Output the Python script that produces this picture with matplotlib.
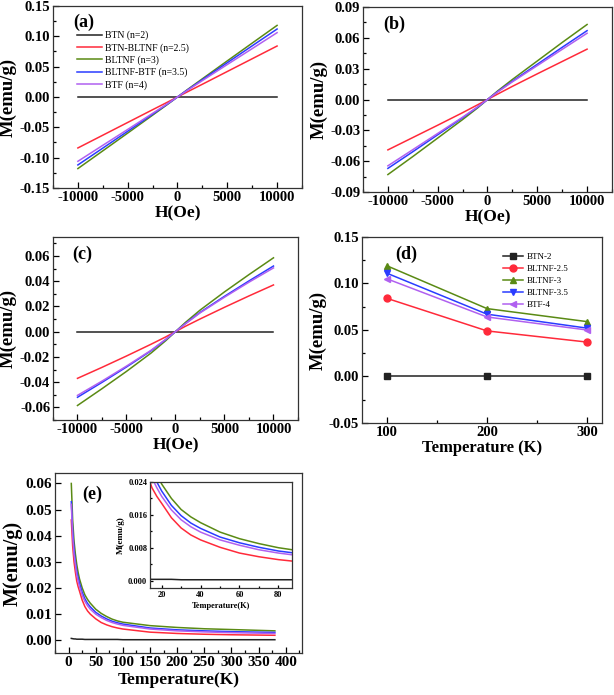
import matplotlib
matplotlib.use("Agg")
import matplotlib.pyplot as plt
from matplotlib.ticker import MultipleLocator, AutoMinorLocator

plt.rcParams["font.family"] = ["Liberation Serif", "DejaVu Serif"]
plt.rcParams["font.weight"] = "bold"
plt.rcParams["axes.unicode_minus"] = False

# -----------------------
# data
# -----------------------
names_mh = ["BTN (n=2)", "BTN-BLTNF (n=2.5)", "BLTNF (n=3)",
            "BLTNF-BTF (n=3.5)", "BTF (n=4)"]
names_mt = ["BTN-2", "BLTNF-2.5", "BLTNF-3", "BLTNF-3.5", "BTF-4"]
colors = ["#222222", "#ff2a3a", "#5a8a14", "#2a3cff", "#b060f0"]
markers = ["s", "o", "^", "v", "<"]

field = [-10000, -7500, -5000, -2500, -1000, 0, 1000, 2500, 5000, 7500, 10000]

# M(H) at 100 K
m_100 = [
    [0, 0, 0, 0, 0, 0, 0, 0, 0, 0, 0],
    [-0.084, -0.063, -0.042, -0.021, -0.0085, 0,
     0.0085, 0.021, 0.042, 0.063, 0.084],
    [-0.118, -0.0888, -0.0595, -0.0300, -0.0122, 0,
     0.0122, 0.0300, 0.0595, 0.0888, 0.118],
    [-0.112, -0.0843, -0.0565, -0.0285, -0.0116, 0,
     0.0116, 0.0285, 0.0565, 0.0843, 0.112],
    [-0.106, -0.0797, -0.0535, -0.0270, -0.0110, 0,
     0.0110, 0.0270, 0.0535, 0.0797, 0.106],
]
# M(H) at 200 K
m_200 = [
    [0, 0, 0, 0, 0, 0, 0, 0, 0, 0, 0],
    [-0.049, -0.0370, -0.0250, -0.0128, -0.0052, 0,
     0.0052, 0.0128, 0.0250, 0.0370, 0.049],
    [-0.073, -0.0555, -0.0375, -0.0195, -0.0082, 0,
     0.0082, 0.0195, 0.0375, 0.0555, 0.073],
    [-0.067, -0.0508, -0.0343, -0.0178, -0.0075, 0,
     0.0075, 0.0178, 0.0343, 0.0508, 0.067],
    [-0.0645, -0.0488, -0.0330, -0.0172, -0.0072, 0,
     0.0072, 0.0172, 0.0330, 0.0488, 0.0645],
]
# M(H) at 300 K
m_300 = [
    [0, 0, 0, 0, 0, 0, 0, 0, 0, 0, 0],
    [-0.037, -0.0283, -0.0193, -0.0100, -0.0042, 0,
     0.0042, 0.0100, 0.0193, 0.0283, 0.037],
    [-0.0585, -0.0452, -0.0315, -0.0170, -0.0072, 0,
     0.0072, 0.0170, 0.0315, 0.0452, 0.0585],
    [-0.052, -0.0402, -0.0280, -0.0152, -0.0063, 0,
     0.0063, 0.0152, 0.0280, 0.0402, 0.052],
    [-0.0505, -0.0392, -0.0273, -0.0148, -0.0061, 0,
     0.0061, 0.0148, 0.0273, 0.0392, 0.0505],
]

# M at 10 kOe vs temperature
temps_d = [100, 200, 300]
m_max = [
    [0.0, 0.0, 0.0],
    [0.084, 0.049, 0.037],
    [0.119, 0.073, 0.059],
    [0.111, 0.067, 0.052],
    [0.105, 0.064, 0.050],
]

# M(T)
temps = [5, 7.5, 10, 12.5, 15, 17.5, 20, 25, 30, 35, 40, 50, 60, 70, 80,
         90, 100, 150, 200, 250, 300, 380]
m_t = [
    [0.0006, 0.0005, 0.0004, 0.0004, 0.0003, 0.0003, 0.0003, 0.0003, 0.0002,
     0.0002, 0.0002, 0.0002, 0.0002, 0.0002, 0.0002, 0.0002, 0.0001, 0.0001,
     0.0001, 0.0001, 0.0001, 0.0001],
    [0.046, 0.036, 0.030, 0.026, 0.0226, 0.0205, 0.0188, 0.0153, 0.0128,
     0.0111, 0.0099, 0.0081, 0.0067, 0.0058, 0.0051, 0.0046, 0.0042, 0.0030,
     0.0025, 0.0022, 0.0020, 0.0018],
    [0.060, 0.046, 0.038, 0.033, 0.029, 0.026, 0.0235, 0.0200, 0.0173,
     0.0155, 0.0141, 0.0118, 0.0102, 0.0090, 0.0080, 0.0073, 0.0068, 0.0055,
     0.0048, 0.0043, 0.0040, 0.0035],
    [0.053, 0.042, 0.035, 0.030, 0.0265, 0.0240, 0.0218, 0.0183, 0.0158,
     0.0140, 0.0127, 0.0106, 0.0092, 0.0081, 0.0072, 0.0066, 0.0061, 0.0046,
     0.0039, 0.0035, 0.0032, 0.0029],
    [0.052, 0.040, 0.033, 0.029, 0.0250, 0.0226, 0.0205, 0.0172, 0.0148,
     0.0131, 0.0118, 0.0099, 0.0086, 0.0075, 0.0067, 0.0061, 0.0056, 0.0042,
     0.0035, 0.0031, 0.0028, 0.0025],
]


def style_axes(ax, tick_size=10.5, pad=2):
    ax.tick_params(which="both", direction="in", top=False, right=False,
                   labelsize=tick_size, width=0.9, pad=pad)
    ax.tick_params(which="major", length=4)
    ax.tick_params(which="minor", length=2.5)
    for lab in ax.get_xticklabels() + ax.get_yticklabels():
        lab.set_fontweight("bold")
    for sp in ax.spines.values():
        sp.set_color("#333333")
        sp.set_linewidth(0.9)


fig = plt.figure(figsize=(6.14, 6.95), dpi=100)

ax_a = fig.add_axes([0.0863, 0.7295, 0.4055, 0.2619])
ax_b = fig.add_axes([0.5912, 0.7237, 0.4055, 0.2662])
ax_c = fig.add_axes([0.0863, 0.3957, 0.3990, 0.2633])
ax_d = fig.add_axes([0.5896, 0.3914, 0.3909, 0.2676])
ax_e = fig.add_axes([0.0896, 0.0604, 0.4023, 0.2590])
ax_in = fig.add_axes([0.2443, 0.1540, 0.2313, 0.1525])

# -----------------------
# M-H panels
# -----------------------
panels = [(ax_a, m_100, "(a)", 0.15, 0.05),
          (ax_b, m_200, "(b)", 0.09, 0.03),
          (ax_c, m_300, "(c)", None, 0.02)]

for ax, data, tag, lim, step in panels:
    for i in range(5):
        ax.plot(field, data[i], color=colors[i], lw=1.1, label=names_mh[i])
    ax.set_xlim(-12500, 12500)
    if lim is not None:
        ax.set_ylim(-lim, lim)
    else:
        ax.set_ylim(-0.07, 0.075)
    ax.xaxis.set_major_locator(MultipleLocator(5000))
    ax.xaxis.set_minor_locator(AutoMinorLocator(2))
    ax.yaxis.set_major_locator(MultipleLocator(step))
    ax.yaxis.set_minor_locator(AutoMinorLocator(2))
    ax.yaxis.set_major_formatter(plt.FormatStrFormatter("%.2f"))
    ax.set_xlabel("H(Oe)", fontsize=12.5, fontweight="bold", labelpad=1)
    ax.set_ylabel("M(emu/g)", fontsize=13.5, fontweight="bold", labelpad=2)
    ax.text(0.08, 0.955, tag, transform=ax.transAxes, fontsize=13,
            fontweight="bold", va="top")
    style_axes(ax)

ax_a.legend(loc="upper left", bbox_to_anchor=(0.075, 0.89), frameon=False,
            prop={"size": 7, "weight": "normal"}, handlelength=2.6,
            labelspacing=0.28, borderpad=0, handletextpad=0.3)

# -----------------------
# M vs T at 10 kOe
# -----------------------
for i in range(5):
    ax_d.plot(temps_d, m_max[i], color=colors[i], lw=1.1, marker=markers[i],
              ms=5, label=names_mt[i])
ax_d.set_xlim(75, 315)
ax_d.set_ylim(-0.05, 0.15)
ax_d.xaxis.set_major_locator(MultipleLocator(100))
ax_d.xaxis.set_minor_locator(AutoMinorLocator(2))
ax_d.yaxis.set_major_locator(MultipleLocator(0.05))
ax_d.yaxis.set_minor_locator(AutoMinorLocator(2))
ax_d.yaxis.set_major_formatter(plt.FormatStrFormatter("%.2f"))
ax_d.set_xlabel("Temperature (K)", fontsize=12, fontweight="bold", labelpad=1)
ax_d.set_ylabel("M(emu/g)", fontsize=13.5, fontweight="bold", labelpad=2)
ax_d.text(0.14, 0.955, "(d)", transform=ax_d.transAxes, fontsize=13,
          fontweight="bold", va="top")
ax_d.legend(loc="upper right", bbox_to_anchor=(0.88, 0.94), frameon=False,
            prop={"size": 6.5, "weight": "normal"}, handlelength=2.2,
            labelspacing=0.4, borderpad=0, handletextpad=0.4)
style_axes(ax_d)

# -----------------------
# M-T curves
# -----------------------
for i in range(5):
    ax_e.plot(temps, m_t[i], color=colors[i], lw=1.1)
    ax_in.plot(temps, m_t[i], color=colors[i], lw=1.1)
ax_e.set_xlim(-25, 430)
ax_e.set_ylim(-0.005, 0.064)
ax_e.xaxis.set_major_locator(MultipleLocator(50))
ax_e.xaxis.set_minor_locator(AutoMinorLocator(2))
ax_e.yaxis.set_major_locator(MultipleLocator(0.01))
ax_e.yaxis.set_major_formatter(plt.FormatStrFormatter("%.2f"))
ax_e.set_xlabel("Temperature(K)", fontsize=12.5, fontweight="bold", labelpad=2)
ax_e.set_ylabel("M(emu/g)", fontsize=14.5, fontweight="bold", labelpad=2)
ax_e.text(0.11, 0.93, "(e)", transform=ax_e.transAxes, fontsize=13,
          fontweight="bold", va="top")
style_axes(ax_e, 11)

ax_in.set_xlim(14, 87)
ax_in.set_ylim(-0.0018, 0.024)
ax_in.xaxis.set_major_locator(MultipleLocator(20))
ax_in.xaxis.set_minor_locator(AutoMinorLocator(2))
ax_in.yaxis.set_major_locator(MultipleLocator(0.008))
ax_in.yaxis.set_minor_locator(AutoMinorLocator(2))
ax_in.yaxis.set_major_formatter(plt.FormatStrFormatter("%.3f"))
ax_in.set_xlabel("Temperature(K)", fontsize=6, fontweight="bold", labelpad=2)
ax_in.set_ylabel("M(emu/g)", fontsize=6.5, fontweight="bold", labelpad=2)
style_axes(ax_in, 6)
ax_in.tick_params(which="major", length=2.5)
ax_in.tick_params(which="minor", length=1.5)

fig.savefig("out.png", dpi=100)
